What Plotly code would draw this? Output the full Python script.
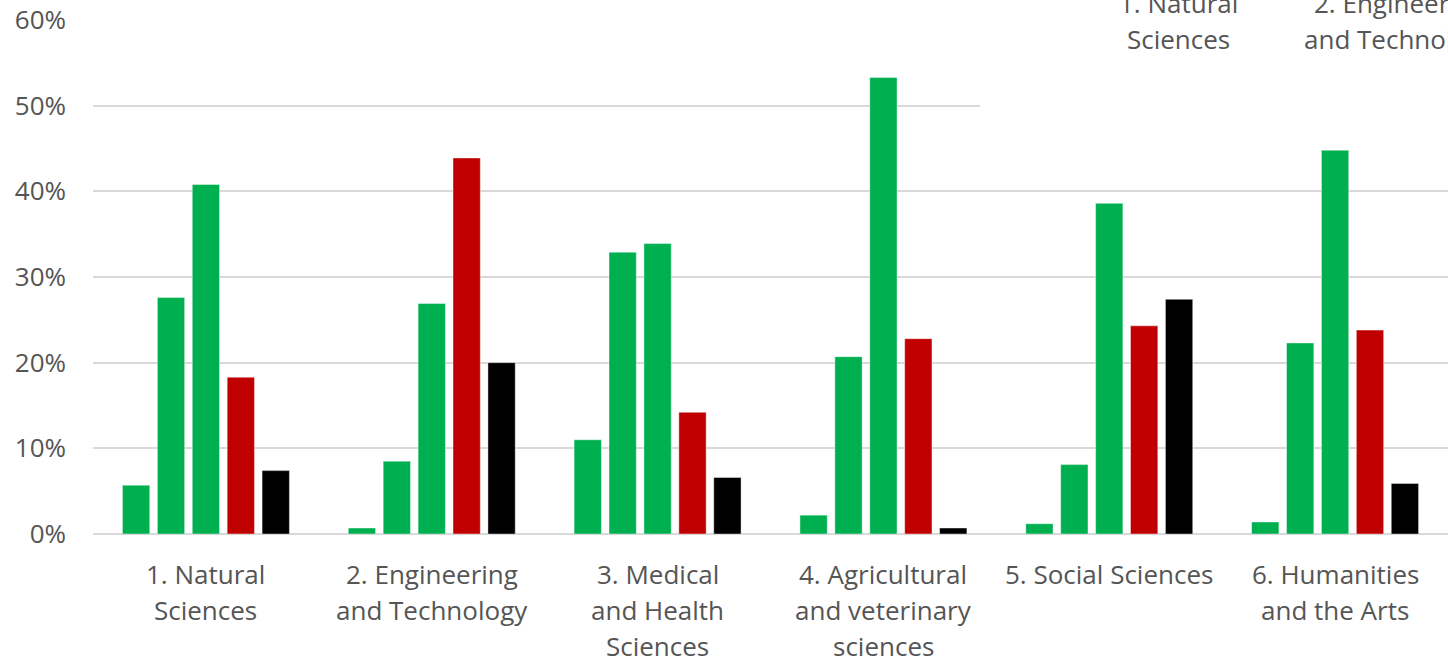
import plotly.graph_objects as go

# Field-of-science categories (label lines split for the axis)
categories = [
    "1. Natural Sciences",
    "2. Engineering and Technology",
    "3. Medical and Health Sciences",
    "4. Agricultural and veterinary sciences",
    "5. Social Sciences",
    "6. Humanities and the Arts",
]
category_lines = [
    ["1. Natural", "Sciences"],
    ["2. Engineering", "and Technology"],
    ["3. Medical", "and Health", "Sciences"],
    ["4. Agricultural", "and veterinary", "sciences"],
    ["5. Social Sciences"],
    ["6. Humanities", "and the Arts"],
]

# Share of each group (%) per category
series_1 = [5.7, 0.7, 11.0, 2.2, 1.2, 1.4]
series_2 = [27.6, 8.5, 32.9, 20.7, 8.1, 22.3]
series_3 = [40.8, 26.9, 33.9, 53.3, 38.6, 44.8]
series_4 = [18.3, 43.9, 14.2, 22.8, 24.3, 23.8]
series_5 = [7.4, 20.0, 6.6, 0.7, 27.4, 5.9]

series_names = ["Series 1", "Series 2", "Series 3", "Series 4", "Series 5"]
series_values = [series_1, series_2, series_3, series_4, series_5]
series_colors = ["#00B050", "#00B050", "#00B050", "#C00000", "#000000"]

y_ticks = [0, 10, 20, 30, 40, 50, 60]
y_tick_labels = [f"{v}%" for v in y_ticks]

W, H = 1448, 664
M_L, M_R, M_T, M_B = 93, 0, 20, 130
FONT = "Open Sans"
FONT_SIZE = 26
TEXT_COLOR = "#555555"
GRID = "#d9d9d9"

fig = go.Figure()
for name, vals, col in zip(series_names, series_values, series_colors):
    fig.add_trace(go.Bar(
        x=categories, y=vals, name=name,
        marker=dict(color=col, line=dict(color="rgba(255,255,255,0.6)", width=0.7)),
        showlegend=False,
    ))

plot_w = W - M_L - M_R
plot_h = H - M_T - M_B


def px_to_paper_x(px):
    return (px - M_L) / plot_w


def px_to_paper_y(py):
    return (H - M_B - py) / plot_h


annotations = []
# Category labels, one annotation per line for wider line spacing
line_gap = 36
first_offset = 40
for cat, lines in zip(categories, category_lines):
    for i, line in enumerate(lines):
        annotations.append(dict(
            x=cat, xref="x", y=0, yref="paper",
            text=line, showarrow=False,
            xanchor="center", yanchor="middle",
            yshift=-(first_offset + i * line_gap),
            font=dict(family=FONT, size=FONT_SIZE, color=TEXT_COLOR),
        ))

# Overlapping panel in the upper right with the start of another axis
overlay_labels = [
    (1178, ["1. Natural", "Sciences"]),
    (1400, ["2. Engineering", "and Technology"]),
]
for cx, lines in overlay_labels:
    for i, line in enumerate(lines):
        annotations.append(dict(
            x=px_to_paper_x(cx), xref="paper",
            y=px_to_paper_y(3 + i * line_gap), yref="paper",
            text=line, showarrow=False,
            xanchor="center", yanchor="middle",
            font=dict(family=FONT, size=FONT_SIZE, color=TEXT_COLOR),
        ))

fig.update_layout(
    width=W, height=H,
    margin=dict(l=M_L, r=M_R, t=M_T, b=M_B, pad=0),
    paper_bgcolor="white", plot_bgcolor="white",
    barmode="group", bargap=0.227, bargroupgap=0.218,
    font=dict(family=FONT, size=FONT_SIZE, color=TEXT_COLOR),
    xaxis=dict(showticklabels=False, showgrid=False, zeroline=False,
               showline=False, ticks=""),
    yaxis=dict(range=[0, 60], tickmode="array", tickvals=y_ticks,
               ticktext=y_tick_labels,
               showgrid=True, gridcolor=GRID, gridwidth=1.6,
               zeroline=True, zerolinecolor=GRID, zerolinewidth=1.6,
               showline=False, ticks="", ticklabelstandoff=26,
               tickfont=dict(family=FONT, size=FONT_SIZE, color=TEXT_COLOR)),
    shapes=[dict(type="rect", xref="paper", yref="paper",
                 x0=px_to_paper_x(980), x1=1.02,
                 y0=px_to_paper_y(118), y1=px_to_paper_y(-5),
                 fillcolor="white", line=dict(width=0), layer="above")],
    annotations=annotations,
)

fig.write_html("out.html")
